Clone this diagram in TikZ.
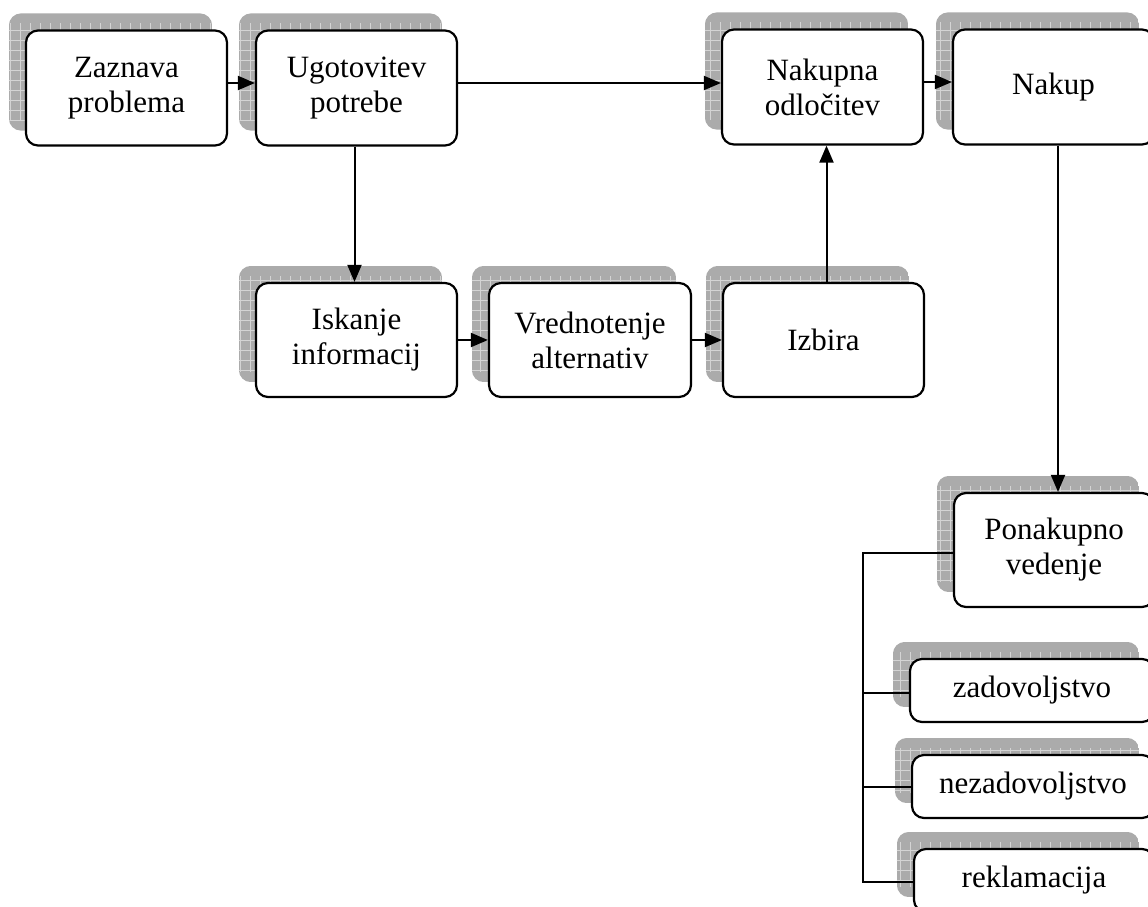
\documentclass[tikz,border=0pt]{standalone}
\usepackage{fontspec}
\setmainfont{Liberation Serif}
\usetikzlibrary{arrows.meta,calc,backgrounds}
\tikzset{
  box/.style={draw, line width=2.2pt, rounded corners=12pt, fill=white, align=center, inner sep=0pt, font=\fontsize{31}{35}\selectfont},
  conn/.style={line width=2pt, -{Triangle[length=17pt,width=14pt]}},
  plainline/.style={line width=2pt},
  shadowfill/.style={fill=black!33},
  gridline/.style={draw=black!17, line width=0.7pt}
}
\newcommand{\mkshadow}[1]{%
  \begin{scope}
    \clip[rounded corners=12pt] ($(#1.south west)+(-16,-16)$) rectangle ($(#1.north east)+(-16,-16)$);
    \fill[shadowfill] ($(#1.south west)+(-16,-16)$) rectangle ($(#1.north east)+(-16,-16)$);
    \draw[gridline,step=10pt] ($(#1.south west)+(-26,-26)$) grid ($(#1.north east)+(-6,-6)$);
  \end{scope}}
\begin{document}
\begin{tikzpicture}[x=1pt,y=-1pt]
\useasboundingbox (0,0) rectangle (1148,906);
\clip (0,0) rectangle (1148,906);
% nodes
\node[box, minimum width=201pt, minimum height=115pt] (A) at (126.5,88) {Zaznava\\problema};
\node[box, minimum width=201pt, minimum height=115pt] (B) at (356.5,88) {Ugotovitev\\potrebe};
\node[box, minimum width=201pt, minimum height=115pt] (C) at (822.5,87) {Nakupna\\odločitev};
\node[box, minimum width=201pt, minimum height=115pt] (D) at (1053.5,87) {Nakup};
\node[box, minimum width=201pt, minimum height=114pt] (E) at (356.5,340) {Iskanje\\informacij};
\node[box, minimum width=202pt, minimum height=114pt] (F) at (590,340) {Vrednotenje\\alternativ};
\node[box, minimum width=201pt, minimum height=114pt] (G) at (823.5,340) {Izbira};
\node[box, minimum width=200pt, minimum height=114pt] (H) at (1054,550) {Ponakupno\\vedenje};
\node[box, minimum width=244pt, minimum height=63pt] (I) at (1032,690.5) {zadovoljstvo};
\node[box, minimum width=242pt, minimum height=63pt] (J) at (1033,786.5) {nezadovoljstvo};
\node[box, minimum width=240pt, minimum height=63pt] (K) at (1034,880.5) {reklamacija};
% shadows
\begin{pgfonlayer}{background}
\foreach \n in {A,B,C,D,E,F,G,H,I,J,K}{\mkshadow{\n}}
\end{pgfonlayer}
% connectors
\draw[conn] ([yshift=5pt]A.east) -- ([yshift=5pt]A.east -| B.west);
\draw[conn] ([yshift=5pt]B.east) -- ([yshift=5pt]B.east -| C.west);
\draw[conn] ([yshift=5pt]C.east) -- ([yshift=5pt]C.east -| D.west);
\draw[conn] ([xshift=-2pt]B.south) -- ([xshift=-2pt]E.north);
\draw[conn] (E.east) -- (E.east -| F.west);
\draw[conn] (F.east) -- (F.east -| G.west);
\draw[conn] ([xshift=3pt]G.north) -- ([xshift=3pt]G.north |- C.south);
\draw[conn] ([xshift=4.5pt]D.south) -- ([xshift=4.5pt]D.south |- H.north);
% bracket
\coordinate (bx) at (863,0);
\draw[plainline] ([yshift=-3pt]H.west) -- ([yshift=-3pt]H.west -| bx) -- ([yshift=-1.5pt]K.west -| bx) -- ([yshift=-1.5pt]K.west);
\draw[plainline] ([yshift=-2.5pt]I.west) -- ([yshift=-2.5pt]I.west -| bx);
\draw[plainline] ([yshift=-0.5pt]J.west) -- ([yshift=-0.5pt]J.west -| bx);
\end{tikzpicture}
\end{document}
